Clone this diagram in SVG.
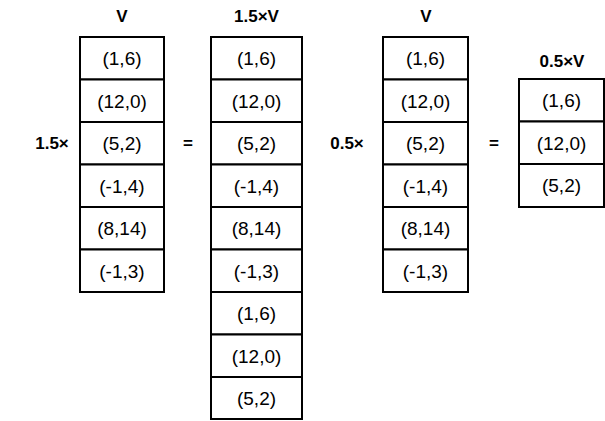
<svg xmlns="http://www.w3.org/2000/svg" width="605" height="421" viewBox="0 0 605 421">
  <style>
    .cell { fill: #ffffff; stroke: #000000; stroke-width: 2; }
    .val { font-family: "Liberation Sans", Arial, sans-serif; font-size: 19px; fill: #000000; text-anchor: middle; }
    .lbl { font-family: "Liberation Sans", Arial, sans-serif; font-size: 17px; font-weight: bold; fill: #000000; text-anchor: middle; }
  </style>
  <rect width="605" height="421" fill="#ffffff"/>

  <!-- column V -->
  <g id="colV1">
    <text class="lbl" x="122" y="22">V</text>
    <rect class="cell" x="80" y="37" width="84" height="42.5"/>
    <rect class="cell" x="80" y="79.5" width="84" height="42.5"/>
    <rect class="cell" x="80" y="122" width="84" height="42.5"/>
    <rect class="cell" x="80" y="164.5" width="84" height="42.5"/>
    <rect class="cell" x="80" y="207" width="84" height="42.5"/>
    <rect class="cell" x="80" y="249.5" width="84" height="42.5"/>
    <text class="val" x="122" y="65">(1,6)</text>
    <text class="val" x="122" y="107.5">(12,0)</text>
    <text class="val" x="122" y="150">(5,2)</text>
    <text class="val" x="122" y="192.5">(-1,4)</text>
    <text class="val" x="122" y="235">(8,14)</text>
    <text class="val" x="122" y="277.5">(-1,3)</text>
  </g>

  <!-- column 1.5×V -->
  <g id="col15V">
    <text class="lbl" x="256.5" y="22">1.5×V</text>
    <rect class="cell" x="211" y="37" width="91" height="42.5"/>
    <rect class="cell" x="211" y="79.5" width="91" height="42.5"/>
    <rect class="cell" x="211" y="122" width="91" height="42.5"/>
    <rect class="cell" x="211" y="164.5" width="91" height="42.5"/>
    <rect class="cell" x="211" y="207" width="91" height="42.5"/>
    <rect class="cell" x="211" y="249.5" width="91" height="42.5"/>
    <rect class="cell" x="211" y="292" width="91" height="42.5"/>
    <rect class="cell" x="211" y="334.5" width="91" height="42.5"/>
    <rect class="cell" x="211" y="377" width="91" height="42"/>
    <text class="val" x="256.5" y="65">(1,6)</text>
    <text class="val" x="256.5" y="107.5">(12,0)</text>
    <text class="val" x="256.5" y="150">(5,2)</text>
    <text class="val" x="256.5" y="192.5">(-1,4)</text>
    <text class="val" x="256.5" y="235">(8,14)</text>
    <text class="val" x="256.5" y="277.5">(-1,3)</text>
    <text class="val" x="256.5" y="320">(1,6)</text>
    <text class="val" x="256.5" y="362.5">(12,0)</text>
    <text class="val" x="256.5" y="405">(5,2)</text>
  </g>

  <!-- column V (second) -->
  <g id="colV2">
    <text class="lbl" x="426" y="22">V</text>
    <rect class="cell" x="383" y="37" width="85" height="42.5"/>
    <rect class="cell" x="383" y="79.5" width="85" height="42.5"/>
    <rect class="cell" x="383" y="122" width="85" height="42.5"/>
    <rect class="cell" x="383" y="164.5" width="85" height="42.5"/>
    <rect class="cell" x="383" y="207" width="85" height="42.5"/>
    <rect class="cell" x="383" y="249.5" width="85" height="42.5"/>
    <text class="val" x="425.5" y="65">(1,6)</text>
    <text class="val" x="425.5" y="107.5">(12,0)</text>
    <text class="val" x="425.5" y="150">(5,2)</text>
    <text class="val" x="425.5" y="192.5">(-1,4)</text>
    <text class="val" x="425.5" y="235">(8,14)</text>
    <text class="val" x="425.5" y="277.5">(-1,3)</text>
  </g>

  <!-- column 0.5×V -->
  <g id="col05V">
    <text class="lbl" x="562" y="67">0.5×V</text>
    <rect class="cell" x="519" y="79" width="85" height="42.5"/>
    <rect class="cell" x="519" y="121.5" width="85" height="42.5"/>
    <rect class="cell" x="519" y="164" width="85" height="43"/>
    <text class="val" x="561.5" y="107">(1,6)</text>
    <text class="val" x="561.5" y="149.5">(12,0)</text>
    <text class="val" x="561.5" y="192">(5,2)</text>
  </g>

  <!-- operators -->
  <g id="operators">
    <text class="lbl" x="52" y="149">1.5×</text>
    <text class="lbl" x="188" y="149">=</text>
    <text class="lbl" x="347" y="149">0.5×</text>
    <text class="lbl" x="494" y="149">=</text>
  </g>
</svg>
